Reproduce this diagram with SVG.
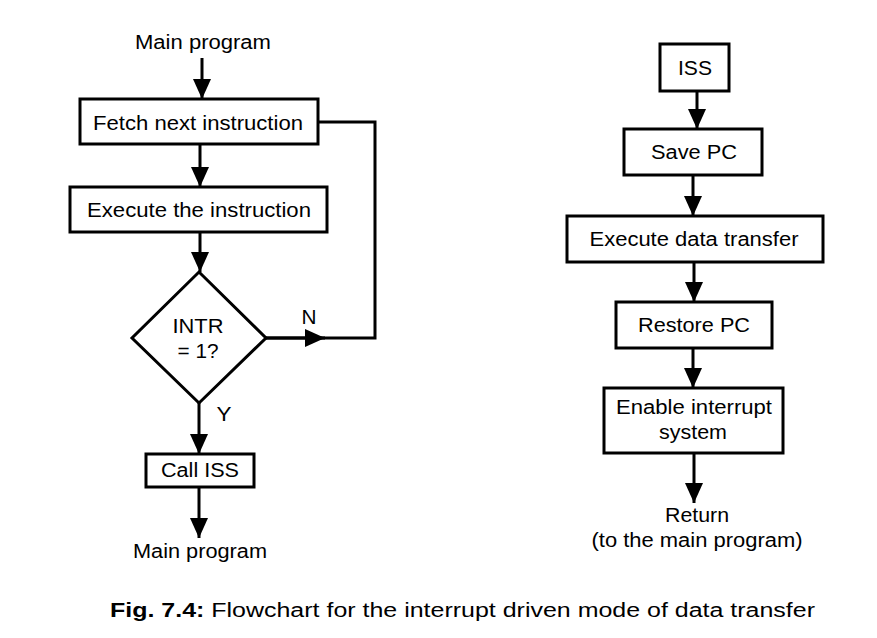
<svg xmlns="http://www.w3.org/2000/svg" width="877" height="638" viewBox="0 0 877 638">
<defs>
<style>
.box{fill:#fff;stroke:#000;stroke-width:3}
.ln{fill:none;stroke:#000;stroke-width:3}
.t{font-family:"Liberation Sans",Arial,sans-serif;font-size:20px;fill:#000;text-anchor:middle}
.cap{font-family:"Liberation Sans",Arial,sans-serif;font-size:20px;fill:#000}
</style>
<marker id="ah" markerUnits="userSpaceOnUse" markerWidth="20" markerHeight="22" viewBox="0 0 20 22" refX="20" refY="9" orient="auto">
<path d="M0,0 L20,9 L0,18 Z" fill="#000"/>
</marker>
</defs>
<rect width="877" height="638" fill="#fff"/>
<g id="connectors">
<line class="ln" x1="202" y1="58" x2="202" y2="99" marker-end="url(#ah)"/>
<line class="ln" x1="200" y1="144" x2="200" y2="187" marker-end="url(#ah)"/>
<line class="ln" x1="200" y1="232" x2="200" y2="272" marker-end="url(#ah)"/>
<line class="ln" x1="199" y1="403" x2="199" y2="454" marker-end="url(#ah)"/>
<line class="ln" x1="199" y1="487" x2="199" y2="538" marker-end="url(#ah)"/>
<polyline class="ln" points="266,338 375,338 375,122 318,122"/>
<line class="ln" x1="266" y1="338" x2="325" y2="338" marker-end="url(#ah)"/>
<text class="t" x="309" y="324" textLength="15" lengthAdjust="spacingAndGlyphs">N</text>
<text class="t" x="224" y="421" textLength="15" lengthAdjust="spacingAndGlyphs">Y</text>
<line class="ln" x1="697" y1="91" x2="697" y2="129" marker-end="url(#ah)"/>
<line class="ln" x1="693" y1="175" x2="693" y2="216" marker-end="url(#ah)"/>
<line class="ln" x1="694" y1="262" x2="694" y2="302" marker-end="url(#ah)"/>
<line class="ln" x1="693" y1="348" x2="693" y2="388" marker-end="url(#ah)"/>
<line class="ln" x1="694" y1="453" x2="694" y2="503" marker-end="url(#ah)"/>
</g>
<g id="start"><text class="t" x="203" y="49" textLength="136" lengthAdjust="spacingAndGlyphs">Main program</text></g>
<g id="fetch"><rect class="box" x="80" y="99" width="238" height="45"/><text class="t" x="198" y="130" textLength="210" lengthAdjust="spacingAndGlyphs">Fetch next instruction</text></g>
<g id="execute"><rect class="box" x="70" y="187" width="257" height="45"/><text class="t" x="199" y="217" textLength="224" lengthAdjust="spacingAndGlyphs">Execute the instruction</text></g>
<g id="decision"><polygon class="box" points="199,272 266,338 199,403 132,338"/><text class="t" x="198" y="333" textLength="51" lengthAdjust="spacingAndGlyphs">INTR</text><text class="t" x="198" y="358" textLength="41" lengthAdjust="spacingAndGlyphs">= 1?</text></g>
<g id="calliss"><rect class="box" x="146" y="454" width="108" height="33"/><text class="t" x="200" y="477" textLength="78" lengthAdjust="spacingAndGlyphs">Call ISS</text></g>
<g id="end"><text class="t" x="200" y="558" textLength="134" lengthAdjust="spacingAndGlyphs">Main program</text></g>
<g id="iss"><rect class="box" x="660" y="44" width="69" height="47"/><text class="t" x="695" y="75" textLength="34" lengthAdjust="spacingAndGlyphs">ISS</text></g>
<g id="savepc"><rect class="box" x="624" y="129" width="138" height="46"/><text class="t" x="694" y="159" textLength="86" lengthAdjust="spacingAndGlyphs">Save PC</text></g>
<g id="edt"><rect class="box" x="567" y="216" width="256" height="46"/><text class="t" x="694" y="246" textLength="209" lengthAdjust="spacingAndGlyphs">Execute data transfer</text></g>
<g id="restore"><rect class="box" x="616" y="302" width="156" height="46"/><text class="t" x="694" y="332" textLength="112" lengthAdjust="spacingAndGlyphs">Restore PC</text></g>
<g id="enable"><rect class="box" x="604" y="388" width="179" height="65"/><text class="t" x="694" y="414" textLength="156" lengthAdjust="spacingAndGlyphs">Enable interrupt</text><text class="t" x="693" y="439" textLength="68" lengthAdjust="spacingAndGlyphs">system</text></g>
<g id="return"><text class="t" x="697" y="522" textLength="64" lengthAdjust="spacingAndGlyphs">Return</text><text class="t" x="697" y="547" textLength="211" lengthAdjust="spacingAndGlyphs">(to the main program)</text></g>
<g id="caption"><text class="cap" x="110" y="617" textLength="705" lengthAdjust="spacingAndGlyphs"><tspan font-weight="bold">Fig. 7.4:</tspan> Flowchart for the interrupt driven mode of data transfer</text></g>
</svg>
